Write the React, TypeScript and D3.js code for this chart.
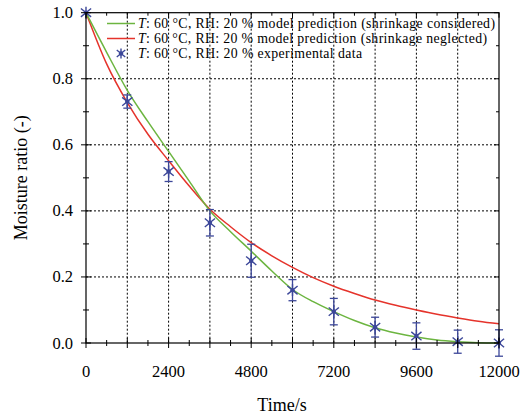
import React from "react";
import * as d3 from "d3";

const curveTimes = [0, 600, 1200, 1800, 2400, 3000, 3600, 4200, 4800, 5400, 6000, 6600, 7200, 7800, 8400, 9000, 9600, 10200, 10800, 11400, 12000];
const shrinkConsidered = [1.0, 0.88, 0.765, 0.67, 0.58, 0.49, 0.4, 0.337, 0.278, 0.218, 0.162, 0.125, 0.095, 0.068, 0.046, 0.03, 0.018, 0.009, 0.004, 0.001, 0.0];
const shrinkNeglected = [1.0, 0.845, 0.728, 0.632, 0.552, 0.475, 0.405, 0.352, 0.304, 0.264, 0.229, 0.198, 0.172, 0.15, 0.13, 0.114, 0.1, 0.087, 0.076, 0.066, 0.058];

const expTimes = [0, 1200, 2400, 3600, 4800, 6000, 7200, 8400, 9600, 10800, 12000];
const expValues = [1.0, 0.731, 0.519, 0.364, 0.249, 0.16, 0.095, 0.048, 0.021, 0.004, 0.0];
const expErrors = [0, 0.02, 0.03, 0.04, 0.05, 0.032, 0.04, 0.03, 0.04, 0.035, 0.04];

const xTickLabels = [0, 2400, 4800, 7200, 9600, 12000];
const yTickLabels = [0, 0.2, 0.4, 0.6, 0.8, 1.0];
const xGrid = [1200, 2400, 3600, 4800, 6000, 7200, 8400, 9600, 10800];
const yGrid = [0.2, 0.4, 0.6, 0.8];

const legendLabels = [
  " model prediction (shrinkage considered)",
  " model prediction (shrinkage neglected)",
  " experimental data",
];
const legendWidths = [357, 349, 224];

const GREEN = "#6cb540";
const RED = "#e5332b";
const BLUE = "#3c4799";
const FONT = "Liberation Serif";

const L = 86, R = 499, T = 12.7, B = 343;

function Star({ x, y, s = 6 }: { x: number; y: number; s?: number }) {
  return (
    <g stroke={BLUE} strokeWidth={1.4}>
      <line x1={x} y1={y - s} x2={x} y2={y + s} />
      <line x1={x - s * 0.85} y1={y - s * 0.7} x2={x + s * 0.85} y2={y + s * 0.7} />
      <line x1={x - s * 0.85} y1={y + s * 0.7} x2={x + s * 0.85} y2={y - s * 0.7} />
      <circle cx={x} cy={y} r={2.2} fill={BLUE} stroke="none" />
    </g>
  );
}

export default function App() {
  const x = d3.scaleLinear().domain([0, 12000]).range([L, R]);
  const y = d3.scaleLinear().domain([0, 1]).range([B, T]);
  const line = d3
    .line<[number, number]>()
    .x((d) => x(d[0]))
    .y((d) => y(d[1]))
    .curve(d3.curveMonotoneX);
  const gPath = line(curveTimes.map((t, i) => [t, shrinkConsidered[i]]) as [number, number][]) || "";
  const rPath = line(curveTimes.map((t, i) => [t, shrinkNeglected[i]]) as [number, number][]) || "";

  const xMinor = d3.range(0, 12001, 600);
  const yMinor = d3.range(0, 1.0001, 0.1);
  const txt = { fontFamily: FONT } as React.CSSProperties;
  const legY = (i: number) => 23.5 + i * 15;

  return (
    <svg
      width={523}
      height={416}
      style={{ position: "absolute", left: 0, top: 0, background: "#fff", fontFamily: FONT }}
    >
      {/* grid */}
      <g stroke="#000" strokeWidth={1} strokeDasharray="2,2">
        {xGrid.map((t) => (
          <line key={"gx" + t} x1={x(t)} x2={x(t)} y1={T} y2={B} />
        ))}
        {yGrid.map((v) => (
          <line key={"gy" + v} x1={L} x2={R} y1={y(v)} y2={y(v)} />
        ))}
      </g>
      {/* curves */}
      <path d={rPath} fill="none" stroke={RED} strokeWidth={1.5} />
      <path d={gPath} fill="none" stroke={GREEN} strokeWidth={1.5} />
      {/* error bars */}
      <g stroke={BLUE} strokeWidth={1.3}>
        {expTimes.map((t, i) =>
          expErrors[i] > 0 ? (
            <g key={"e" + t}>
              <line x1={x(t)} x2={x(t)} y1={y(expValues[i] - expErrors[i])} y2={y(expValues[i] + expErrors[i])} />
              <line x1={x(t) - 4} x2={x(t) + 4} y1={y(expValues[i] - expErrors[i])} y2={y(expValues[i] - expErrors[i])} />
              <line x1={x(t) - 4} x2={x(t) + 4} y1={y(expValues[i] + expErrors[i])} y2={y(expValues[i] + expErrors[i])} />
            </g>
          ) : null
        )}
      </g>
      {expTimes.map((t, i) => (
        <Star key={"s" + t} x={x(t)} y={y(expValues[i])} />
      ))}
      {/* frame */}
      <rect x={L} y={T} width={R - L} height={B - T} fill="none" stroke="#000" strokeWidth={1.2} />
      {/* ticks */}
      <g stroke="#000" strokeWidth={1}>
        {xMinor.map((t, i) => {
          const major = Math.round(t) % 1200 === 0;
          const h = major ? 5 : 3;
          return (
            <g key={"xt" + i}>
              <line x1={x(t)} x2={x(t)} y1={B - h} y2={B + h} />
              <line x1={x(t)} x2={x(t)} y1={T} y2={T + h} />
            </g>
          );
        })}
        {yMinor.map((v, i) => {
          const major = i % 2 === 0;
          const h = major ? 5 : 3;
          return (
            <g key={"yt" + i}>
              <line x1={L - h} x2={L + h} y1={y(v)} y2={y(v)} />
              <line x1={R - h} x2={R} y1={y(v)} y2={y(v)} />
            </g>
          );
        })}
      </g>
      {/* tick labels */}
      <g fontSize={16.5} fill="#000">
        {xTickLabels.map((t) => (
          <text key={"xl" + t} style={txt} x={x(t)} y={377} textAnchor="middle">
            {t}
          </text>
        ))}
        {yTickLabels.map((v) => (
          <text key={"yl" + v} style={txt} x={73} y={y(v) + 5.5} textAnchor="end">
            {v.toFixed(1)}
          </text>
        ))}
      </g>
      {/* axis titles */}
      <text style={txt} x={282} y={411} fontSize={18} textAnchor="middle" fill="#000">
        Time/s
      </text>
      <text
        style={txt}
        transform={`translate(27,${(T + B) / 2}) rotate(-90)`}
        fontSize={18}
        textAnchor="middle"
        fill="#000"
      >
        Moisture ratio (-)
      </text>
      {/* legend */}
      <g fontSize={13.8} fill="#000">
        {[GREEN, RED].map((c, i) => (
          <line key={"ll" + i} x1={107} x2={135} y1={legY(i)} y2={legY(i)} stroke={c} strokeWidth={1.5} />
        ))}
        <Star x={121} y={legY(2)} s={5} />
        {legendLabels.map((lab, i) => (
          <text
            key={"lt" + i}
            style={txt}
            x={138}
            y={legY(i) + 4.8}
            textLength={legendWidths[i]}
            lengthAdjust="spacing"
          >
            <tspan fontStyle="italic">T</tspan>
            {": 60 °C, RH: 20 %" + lab}
          </text>
        ))}
      </g>
    </svg>
  );
}
